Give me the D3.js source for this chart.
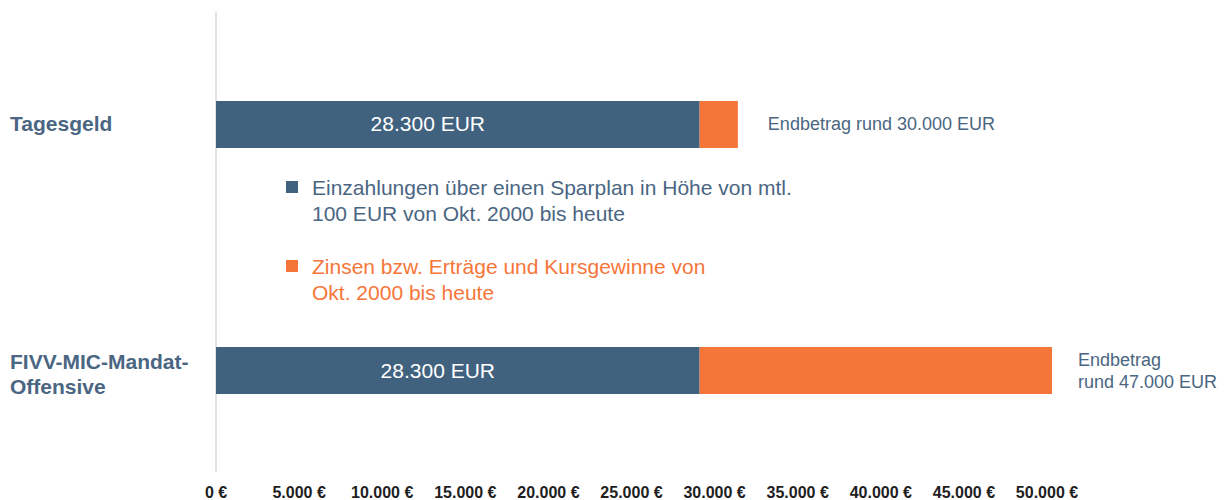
<!DOCTYPE html>
<html>
<head>
<meta charset="utf-8">
<script src="https://cdnjs.cloudflare.com/ajax/libs/d3/7.8.5/d3.min.js"></script>
<style>
  body { margin: 0; background: #fff; }
  svg { font-family: "Liberation Sans", Arial, sans-serif; }
</style>
</head>
<body>
<svg width="1225" height="500"></svg>
<script>
var categories = ["Tagesgeld", "FIVV-MIC-Mandat-Offensive"];
var catLines = [["Tagesgeld"], ["FIVV-MIC-Mandat-", "Offensive"]];
var einzahlungen = [29100, 29100];
var ertraege = [2300, 21200];
var barLabels = ["28.300 EUR", "28.300 EUR"];
var endLabels = [["Endbetrag rund 30.000 EUR"], ["Endbetrag", "rund 47.000 EUR"]];
var ticks = [0, 5000, 10000, 15000, 20000, 25000, 30000, 35000, 40000, 45000, 50000];
var legendLines = [
  ["Einzahlungen über einen Sparplan in Höhe von mtl.", "100 EUR von Okt. 2000 bis heute"],
  ["Zinsen bzw. Erträge und Kursgewinne von", "Okt. 2000 bis heute"]
];

var blue = "#41627f", orange = "#f6763a", textBlue = "#4a6682";

var svg = d3.select("svg");

var x = d3.scaleLinear().domain([0, 50000]).range([216, 1047]);
// bars: 47px high, 246px apart, first one starts at 101
var y = d3.scaleBand().domain(categories).range([51.8, 443.2]).paddingInner(0.809).paddingOuter(0.2);

// axis line
svg.append("line")
  .attr("x1", 216).attr("x2", 216)
  .attr("y1", 12).attr("y2", 472)
  .attr("stroke", "#e2e2e2").attr("stroke-width", 2);

// tick labels
svg.append("g").selectAll("text")
  .data(ticks)
  .enter().append("text")
  .attr("x", function(d) { return x(d); })
  .attr("y", 498)
  .attr("text-anchor", "middle")
  .attr("font-size", 16)
  .attr("font-weight", "bold")
  .attr("fill", "#1e1e1e")
  .text(function(d) { return d3.format(",")(d).replace(/,/g, ".") + " €"; });

var rows = svg.append("g").selectAll("g")
  .data(categories)
  .enter().append("g");

rows.append("rect")
  .attr("x", x(0))
  .attr("y", function(d) { return y(d); })
  .attr("width", function(d, i) { return x(einzahlungen[i]) - x(0); })
  .attr("height", y.bandwidth())
  .attr("fill", blue);

rows.append("rect")
  .attr("x", function(d, i) { return x(einzahlungen[i]); })
  .attr("y", function(d) { return y(d); })
  .attr("width", function(d, i) { return x(einzahlungen[i] + ertraege[i]) - x(einzahlungen[i]); })
  .attr("height", y.bandwidth())
  .attr("fill", orange);

rows.append("text")
  .attr("x", function(d, i) { return (x(0) + x(einzahlungen[i])) / 2 - (i === 0 ? 30 : 20); })
  .attr("y", function(d) { return y(d) + y.bandwidth() / 2 + 7; })
  .attr("text-anchor", "middle")
  .attr("font-size", 21)
  .attr("fill", "#fff")
  .text(function(d, i) { return barLabels[i]; });

// category labels and end amounts
rows.each(function(d, i) {
  var g = d3.select(this);
  var lines = catLines[i];
  var cy = y(d) + y.bandwidth() / 2;
  var start = cy + 7 - (lines.length - 1) * 9;
  lines.forEach(function(l, k) {
    g.append("text")
      .attr("x", 10)
      .attr("y", start + k * 25)
      .attr("font-size", 21)
      .attr("font-weight", "bold")
      .attr("fill", textBlue)
      .text(l);
  });
  var ends = endLabels[i];
  var ex = x(einzahlungen[i] + ertraege[i]) + (ends.length > 1 ? 26 : 30);
  var es = cy + 6 - (ends.length - 1) * 11;
  ends.forEach(function(l, k) {
    g.append("text")
      .attr("x", ex)
      .attr("y", es + k * 22)
      .attr("font-size", 18)
      .attr("fill", textBlue)
      .text(l);
  });
});

// legend
var legend = svg.append("g").selectAll("g")
  .data(legendLines)
  .enter().append("g")
  .attr("transform", function(d, i) { return "translate(286," + (181 + i * 79) + ")"; });

legend.append("rect")
  .attr("width", 12).attr("height", 12)
  .attr("fill", function(d, i) { return i === 0 ? blue : orange; });

legend.each(function(d, i) {
  var g = d3.select(this);
  d.forEach(function(l, k) {
    g.append("text")
      .attr("x", 26)
      .attr("y", 14 + k * 26)
      .attr("font-size", 21)
      .attr("fill", i === 0 ? textBlue : orange)
      .text(l);
  });
});
</script>
</body>
</html>
